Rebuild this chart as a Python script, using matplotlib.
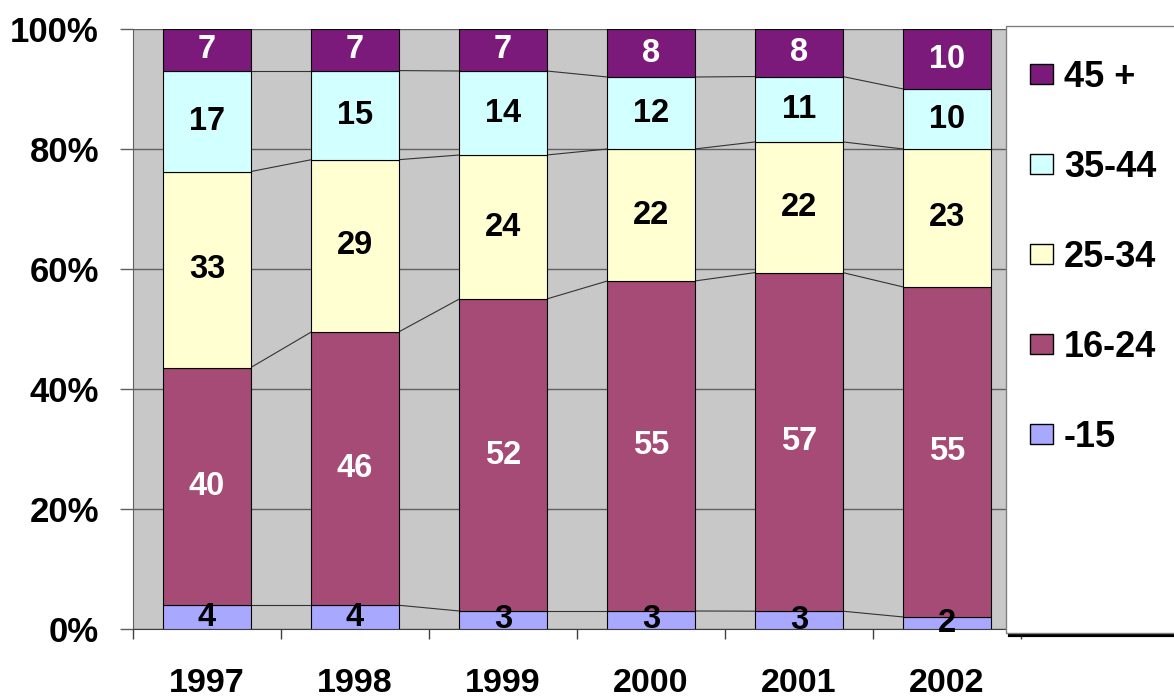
import numpy as np
import matplotlib.pyplot as plt
from matplotlib.patches import Patch, Rectangle
from matplotlib.lines import Line2D

plt.rcParams['font.family'] = ['Liberation Sans', 'DejaVu Sans']
plt.rcParams['font.weight'] = 'bold'

years = ['1997', '1998', '1999', '2000', '2001', '2002']
groups = ['-15', '16-24', '25-34', '35-44', '45 +']
under15 = [4, 4, 3, 3, 3, 2]
age16_24 = [40, 46, 52, 55, 57, 55]
age25_34 = [33, 29, 24, 22, 22, 23]
age35_44 = [17, 15, 14, 12, 11, 10]
age45plus = [7, 7, 7, 8, 8, 10]

colors = ['#A8A8FF', '#A64A76', '#FFFFD2', '#D2FFFF', '#7C1A7C']
text_colors = ['black', 'white', 'black', 'black', 'white']

data = np.array([under15, age16_24, age25_34, age35_44, age45plus], dtype=float)
shares = data / data.sum(axis=0) * 100
x = np.arange(len(years))
width = 0.59

fig = plt.figure(figsize=(11.74, 6.97), dpi=100)
ax = fig.add_axes([133 / 1174, 1 - 629 / 697, 888 / 1174, 600 / 697])
ax.set_facecolor('#C8C8C8')

bottom = np.zeros(len(years))
tops = []
for i, g in enumerate(groups):
    ax.bar(x, shares[i], bottom=bottom, width=width, color=colors[i],
           edgecolor='black', linewidth=0.8, zorder=3)
    for j in range(len(years)):
        ax.text(x[j], bottom[j] + shares[i][j] / 2, '%d' % data[i][j],
                ha='center', va='center', fontsize=23.5, fontweight='bold',
                color=text_colors[i], zorder=5)
    bottom = bottom + shares[i]
    tops.append(bottom.copy())

# series lines between bars
for t in tops[:-1]:
    for j in range(len(years) - 1):
        ax.plot([x[j] + width / 2, x[j + 1] - width / 2], [t[j], t[j + 1]],
                color='#333333', linewidth=0.8, zorder=2)

ax.set_xlim(-0.5, len(years) - 0.5)
ax.set_ylim(0, 100)
ax.set_yticks(np.arange(0, 101, 20))
ax.set_yticklabels(['%d%%' % v for v in range(0, 101, 20)], fontsize=25, fontweight='bold')
ax.yaxis.grid(True, color='#606060', linewidth=1, zorder=1)
ax.set_axisbelow(True)
ax.tick_params(axis='y', length=9.5, width=1, color='#606060', pad=15)

ax.set_xticks(np.arange(-0.5, len(years)), labels=[])
ax.set_xticks(x, labels=years, minor=True)
ax.tick_params(axis='x', which='major', length=7.5, width=1, color='#404040')
ax.tick_params(axis='x', which='minor', length=0, pad=28, labelsize=24.5)
for lab in ax.get_xticklabels(minor=True):
    lab.set_fontweight('bold')

for s in ['top', 'right']:
    ax.spines[s].set_visible(False)
ax.spines['left'].set_color('#606060')
ax.spines['bottom'].set_color('#404040')

# legend box
fig.patches.append(Rectangle((1006 / 1174, 1 - 633 / 697), 170 / 1174, 607 / 697,
                             transform=fig.transFigure, facecolor='white',
                             edgecolor='#808080', linewidth=1, zorder=4))
fig.lines.append(Line2D([1010 / 1174, 1], [1 - 635 / 697, 1 - 635 / 697],
                        transform=fig.transFigure, color='black', linewidth=3))

handles = [Patch(facecolor=colors[i], edgecolor='black', linewidth=1) for i in range(len(groups))][::-1]
leg = fig.legend(handles, groups[::-1], loc='upper left',
                 bbox_to_anchor=(1030 / 1174, 1 - 60 / 697), frameon=False,
                 prop={'size': 26, 'weight': 'bold'}, labelspacing=1.52,
                 handlelength=0.64, handleheight=0.47, handletextpad=0.3,
                 borderpad=0, borderaxespad=0)
leg.set_zorder(6)

fig.savefig('out.png', dpi=100)
